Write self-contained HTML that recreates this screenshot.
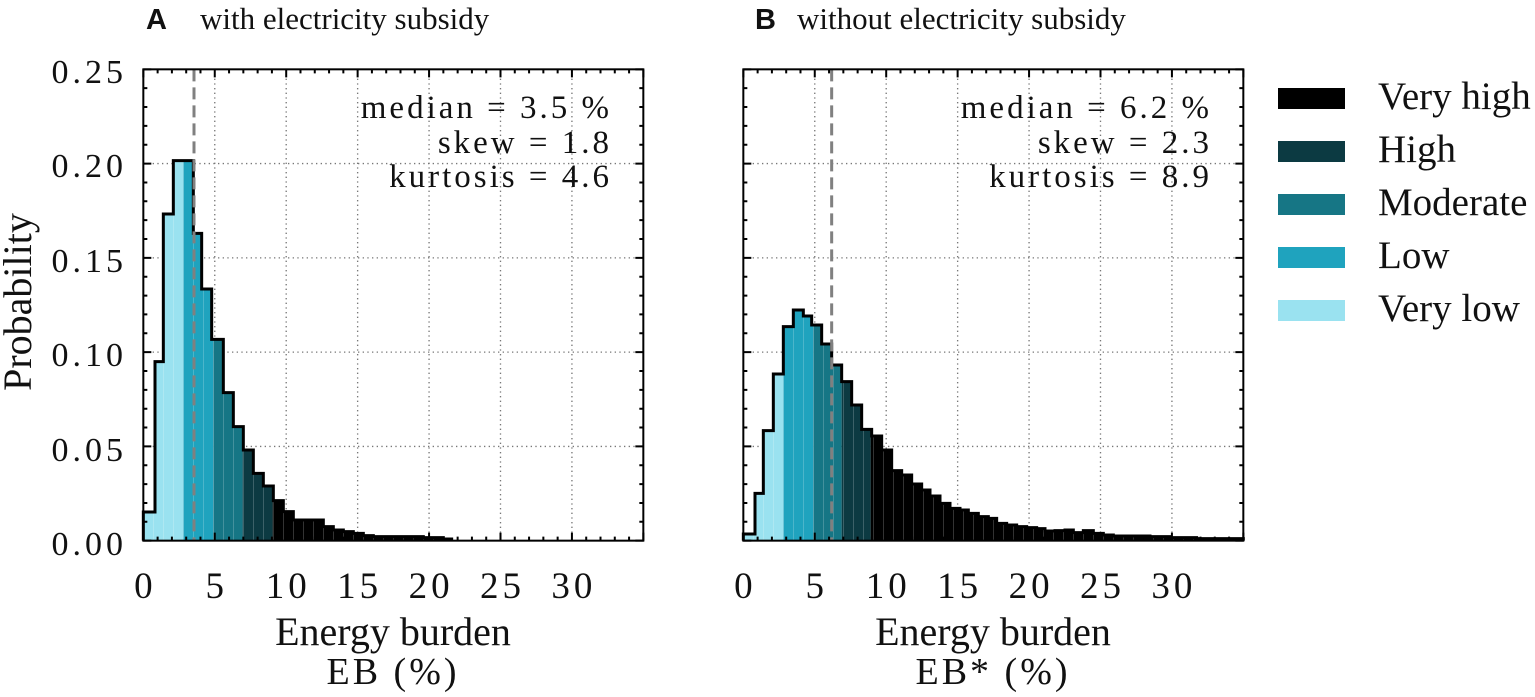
<!DOCTYPE html>
<html><head><meta charset="utf-8">
<style>
html,body{margin:0;padding:0;background:#fff;}
svg{display:block;}
text{font-family:"Liberation Serif",serif;fill:#111;}
</style></head>
<body>
<svg id="s" width="1535" height="697" viewBox="0 0 1535 697" xmlns="http://www.w3.org/2000/svg">
<defs>
<clipPath id="ca"><path d="M40,1442 V1356 H75 V905 H100 V462 H130 V302 H190 V520 H215 V687 H245 V838 H280 V998 H310 V1100 H340 V1170 H370 V1240 H400 V1278 H430 V1322 H460 V1355 H490 V1380 H580 V1400 H610 V1410 H640 V1415 H670 V1420 H700 V1427 H730 V1430 H880 V1433 H940 V1437 H965 V1442 Z"/></clipPath>
<clipPath id="cb"><path d="M40,1442 V1422 H75 V1300 H100 V1112 H130 V942 H160 V800 H190 V750 H220 V768 H245 V795 H275 V852 H305 V915 H335 V965 H365 V1035 H395 V1108 H425 V1128 H455 V1170 H485 V1232 H515 V1245 H545 V1272 H575 V1290 H600 V1308 H630 V1330 H660 V1345 H690 V1350 H715 V1360 H745 V1370 H775 V1375 H800 V1390 H830 V1395 H860 V1400 H890 V1403 H920 V1406 H945 V1413 H975 V1412 H1005 V1410 H1030 V1418 H1060 V1412 H1090 V1420 H1120 V1425 H1150 V1428 H1260 V1430 H1320 V1433 H1400 V1436 H1540 V1442 Z"/></clipPath>
</defs>

<text x="146" y="29" style="font-family:'Liberation Sans',sans-serif;font-weight:bold;font-size:29px">A</text>
<text x="200" y="29" font-size="31">with electricity subsidy</text>
<text x="755" y="29" style="font-family:'Liberation Sans',sans-serif;font-weight:bold;font-size:29px">B</text>
<text x="797" y="29" font-size="31">without electricity subsidy</text>

<g id="pa" transform="translate(130,60) scale(0.33333)">
<g id="ga"></g>
<g clip-path="url(#ca)">
<rect x="40" y="0" width="120" height="1442" fill="#9ae2f0"/>
<rect x="160" y="0" width="90" height="1442" fill="#1fa3be"/>
<rect x="250" y="0" width="88" height="1442" fill="#167685"/>
<rect x="338" y="0" width="90" height="1442" fill="#0c3a42"/>
<rect x="428" y="0" width="1120" height="1442" fill="#000"/>
<g id="ea" stroke="#fff" stroke-opacity="0.3" stroke-width="2"></g>
</g>
<path d="M40,1442 V1356 H75 V905 H100 V462 H130 V302 H190 V520 H215 V687 H245 V838 H280 V998 H310 V1100 H340 V1170 H370 V1240 H400 V1278 H430 V1322 H460 V1355 H490 V1380 H580 V1400 H610 V1410 H640 V1415 H670 V1420 H700 V1427 H730 V1430 H880 V1433 H940 V1437 H965 V1442" fill="none" stroke="#000" stroke-width="9" stroke-linejoin="miter"/>
<line x1="192" y1="28" x2="192" y2="1442" stroke="#808080" stroke-width="9" stroke-dasharray="36,18"/>
<g id="ta"></g>
<rect x="40" y="28" width="1500" height="1414" fill="none" stroke="#000" stroke-width="6"/>
</g>
<g font-size="33" text-anchor="end" letter-spacing="3">
<text x="612" y="118">median = 3.5 %</text>
<text x="612" y="153">skew = 1.8</text>
<text x="612" y="187">kurtosis = 4.6</text>
</g>

<g id="pb" transform="translate(730,60) scale(0.33333)">
<g id="gb"></g>
<g clip-path="url(#cb)">
<rect x="40" y="0" width="120" height="1442" fill="#9ae2f0"/>
<rect x="160" y="0" width="90" height="1442" fill="#1fa3be"/>
<rect x="250" y="0" width="85" height="1442" fill="#167685"/>
<rect x="335" y="0" width="87" height="1442" fill="#0c3a42"/>
<rect x="422" y="0" width="1120" height="1442" fill="#000"/>
<g id="eb" stroke="#fff" stroke-opacity="0.3" stroke-width="2"></g>
</g>
<path d="M40,1442 V1422 H75 V1300 H100 V1112 H130 V942 H160 V800 H190 V750 H220 V768 H245 V795 H275 V852 H305 V915 H335 V965 H365 V1035 H395 V1108 H425 V1128 H455 V1170 H485 V1232 H515 V1245 H545 V1272 H575 V1290 H600 V1308 H630 V1330 H660 V1345 H690 V1350 H715 V1360 H745 V1370 H775 V1375 H800 V1390 H830 V1395 H860 V1400 H890 V1403 H920 V1406 H945 V1413 H975 V1412 H1005 V1410 H1030 V1418 H1060 V1412 H1090 V1420 H1120 V1425 H1150 V1428 H1260 V1430 H1320 V1433 H1400 V1436 H1540 V1442" fill="none" stroke="#000" stroke-width="9"/>
<line x1="305" y1="28" x2="305" y2="1442" stroke="#808080" stroke-width="9" stroke-dasharray="36,18"/>
<g id="tb"></g>
<rect x="40" y="28" width="1500" height="1414" fill="none" stroke="#000" stroke-width="6"/>
</g>
<g font-size="33" text-anchor="end" letter-spacing="3">
<text x="1212" y="118">median = 6.2 %</text>
<text x="1212" y="153">skew = 2.3</text>
<text x="1212" y="187">kurtosis = 8.9</text>
</g>

<g font-size="34" text-anchor="end" letter-spacing="4">
<text x="127" y="83">0.25</text>
<text x="127" y="177">0.20</text>
<text x="127" y="272">0.15</text>
<text x="127" y="366">0.10</text>
<text x="127" y="461">0.05</text>
<text x="127" y="555">0.00</text>
</g>
<text transform="translate(31,302) rotate(-90)" font-size="40" text-anchor="middle">Probability</text>

<g font-size="37" text-anchor="middle" letter-spacing="4" id="xl"></g>

<text x="393" y="645" font-size="40" text-anchor="middle">Energy burden</text>
<text x="393" y="684" font-size="38" text-anchor="middle" letter-spacing="3">EB (%)</text>
<text x="993" y="645" font-size="40" text-anchor="middle">Energy burden</text>
<text x="993" y="684" font-size="38" text-anchor="middle" letter-spacing="3">EB* (%)</text>

<rect x="1278" y="88" width="67" height="21" fill="#000"/>
<rect x="1278" y="141" width="67" height="21" fill="#0c3a42"/>
<rect x="1278" y="194" width="67" height="21" fill="#167685"/>
<rect x="1278" y="247" width="67" height="21" fill="#1fa3be"/>
<rect x="1278" y="300" width="67" height="21" fill="#9ae2f0"/>
<g font-size="39">
<text x="1378" y="109">Very high</text>
<text x="1378" y="162">High</text>
<text x="1378" y="215">Moderate</text>
<text x="1378" y="268">Low</text>
<text x="1378" y="321">Very low</text>
</g>
</svg>
<script>
(function(){
var NS="http://www.w3.org/2000/svg";
function el(p,tag,a){var e=document.createElementNS(NS,tag);for(var k in a)e.setAttribute(k,a[k]);p.appendChild(e);return e;}
function X(v){return 40+v*42.86;}
function Y(p){return 1442-p*5656;}
function build(gid,tid,eid,ox){
  var g=document.getElementById(gid),t=document.getElementById(tid),e=document.getElementById(eid);
  var d="";
  for(var v=5;v<=30;v+=5){d+="M"+X(v)+",28V1442";}
  for(var k=1;k<=4;k++){var y=Y(k*0.05);d+="M40,"+y+"H1540";}
  el(g,"path",{d:d,stroke:"#777","stroke-width":"4","stroke-dasharray":"4,10",fill:"none"});
  var td="";
  for(var v=0;v<=35;v++){var L=(v%5==0)?24:12;var x=X(v);td+="M"+x+",1442v-"+L+"M"+x+",28v"+L;}
  for(var i=0;i<=25;i++){var L=(i%5==0)?24:12;var y=Y(i*0.01);td+="M40,"+y+"h"+L+"M1540,"+y+"h-"+L;}
  el(t,"path",{d:td,stroke:"#000","stroke-width":"6",fill:"none"});
  var ed="";for(var x=40;x<1540;x+=30){ed+="M"+x+",0V1442";}
  el(e,"path",{d:ed});
  var xl=document.getElementById("xl");
  for(var v=0;v<=30;v+=5){var tx=el(xl,"text",{x:ox+X(v)/3+2,y:598});tx.textContent=String(v);}
}
build("ga","ta","ea",130);
build("gb","tb","eb",730);
})();
</script>
</body></html>
